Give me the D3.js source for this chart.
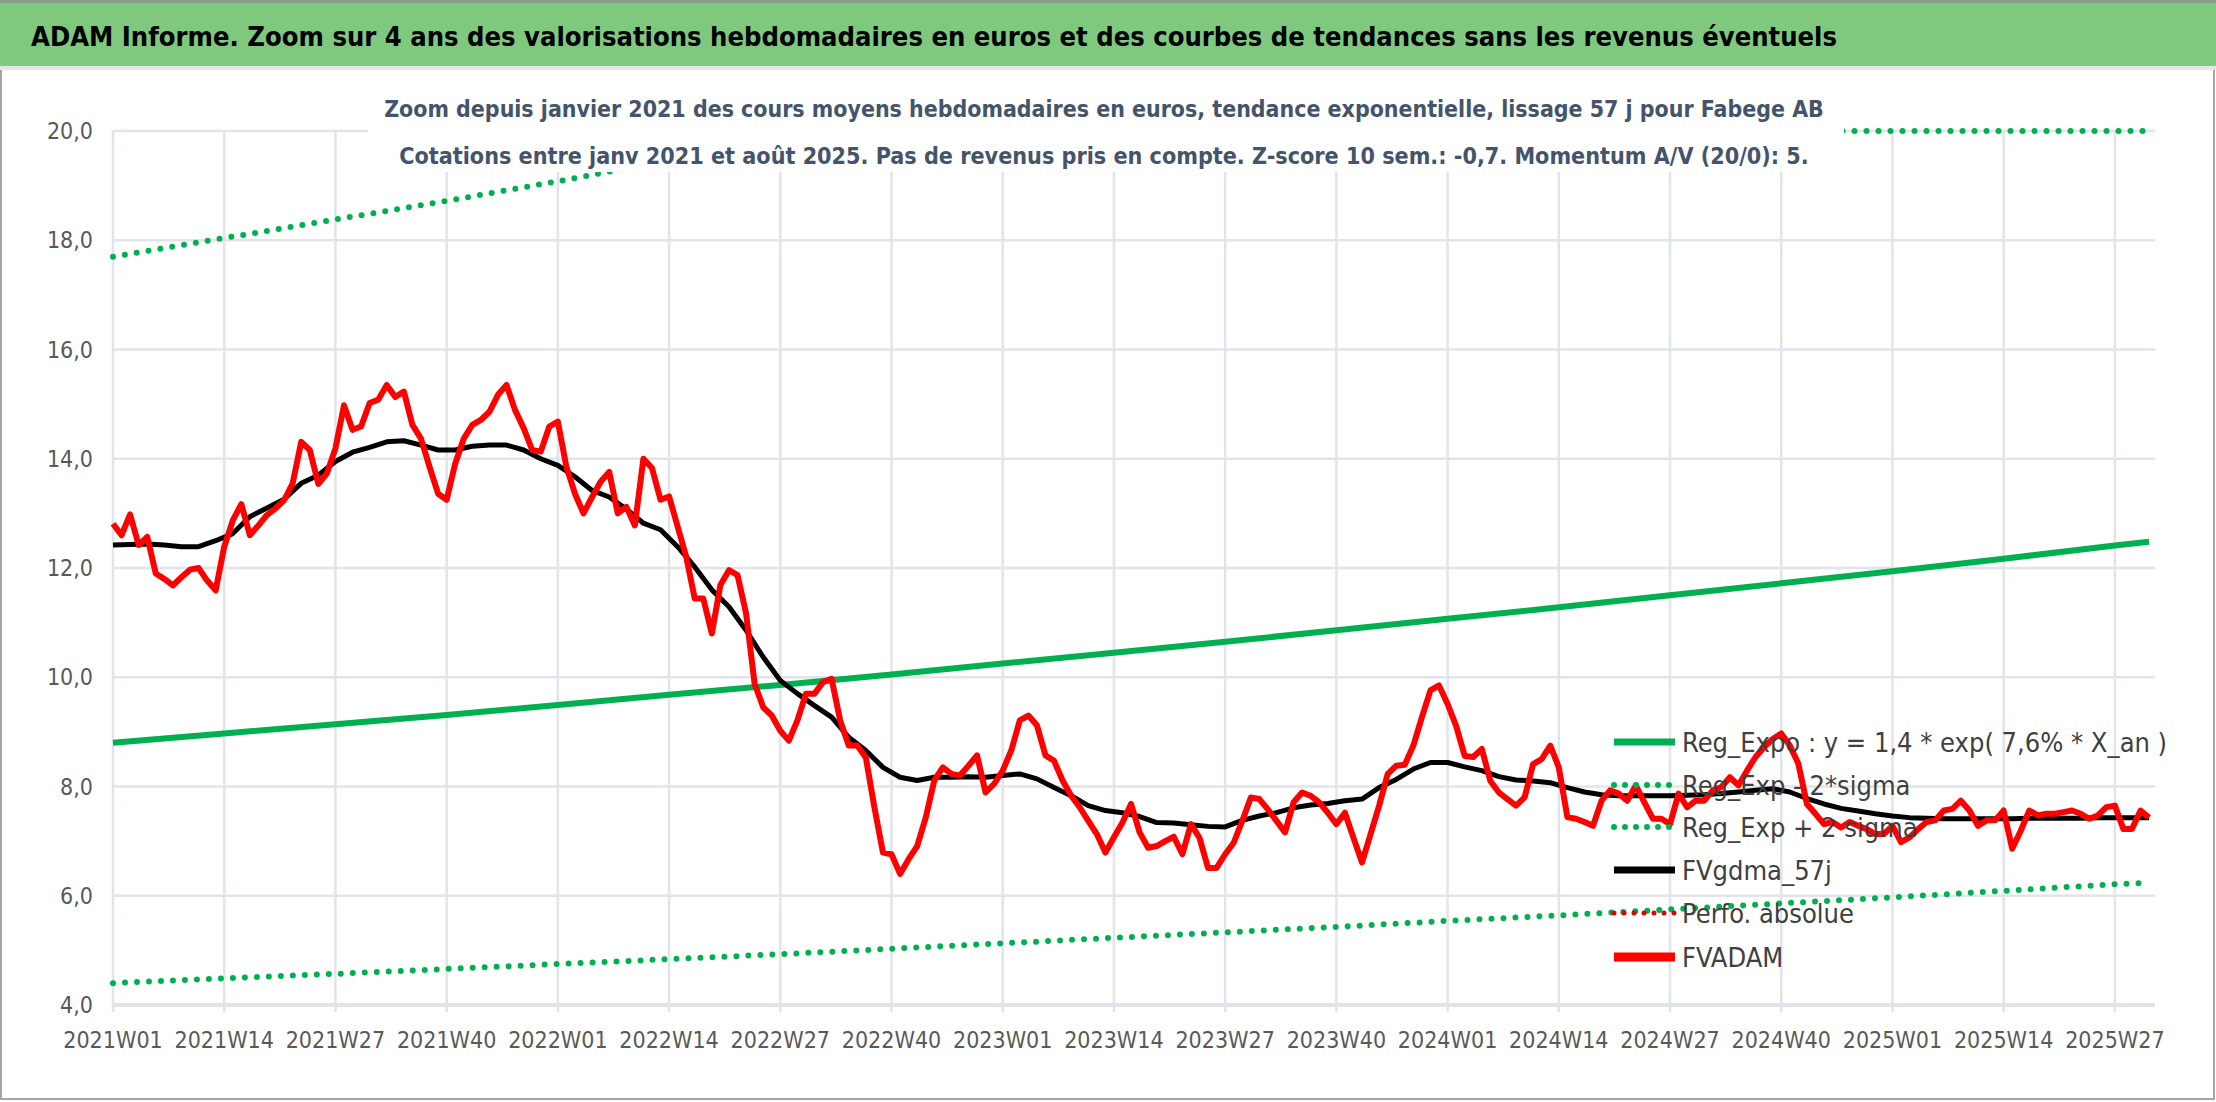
<!DOCTYPE html>
<html><head><meta charset="utf-8">
<script src="https://cdn.jsdelivr.net/npm/d3@7"></script>
<style>body{margin:0;background:#fff}svg{display:block}</style>
</head><body>
<svg id="c" width="2216" height="1102"></svg>
<script>
const tickLabels=["2021W01","2021W14","2021W27","2021W40","2022W01","2022W14","2022W27","2022W40","2023W01","2023W14","2023W27","2023W40","2024W01","2024W14","2024W27","2024W40","2025W01","2025W14","2025W27"];
const yTicks=[4,6,8,10,12,14,16,18,20];
const fvadam=[12.81,12.6,12.98,12.42,12.57,11.9,11.8,11.68,11.83,11.97,12.0,11.77,11.59,12.39,12.87,13.17,12.6,12.78,12.97,13.09,13.24,13.55,14.31,14.16,13.54,13.73,14.19,14.98,14.53,14.59,15.02,15.08,15.35,15.13,15.23,14.62,14.37,13.85,13.36,13.25,13.91,14.37,14.62,14.71,14.86,15.17,15.35,14.89,14.56,14.16,14.13,14.59,14.68,13.85,13.36,13.0,13.3,13.58,13.76,13.0,13.12,12.78,14.0,13.83,13.25,13.31,12.76,12.21,11.44,11.44,10.8,11.69,11.96,11.87,11.17,9.88,9.45,9.3,9.02,8.84,9.21,9.7,9.7,9.91,9.97,9.21,8.75,8.75,8.53,7.62,6.79,6.76,6.4,6.67,6.91,7.43,8.11,8.35,8.23,8.2,8.38,8.57,7.89,8.05,8.29,8.66,9.21,9.3,9.12,8.57,8.47,8.11,7.83,7.62,7.37,7.13,6.79,7.07,7.34,7.68,7.16,6.88,6.91,7.0,7.08,6.76,7.31,7.06,6.51,6.51,6.76,6.97,7.37,7.8,7.77,7.58,7.37,7.16,7.71,7.89,7.83,7.71,7.52,7.31,7.52,7.06,6.61,7.13,7.65,8.23,8.38,8.4,8.75,9.27,9.76,9.85,9.51,9.11,8.56,8.54,8.69,8.1,7.89,7.77,7.65,7.8,8.41,8.5,8.75,8.35,7.44,7.41,7.35,7.28,7.74,7.93,7.87,7.74,8.02,7.71,7.41,7.41,7.31,7.87,7.62,7.74,7.74,7.93,7.99,8.17,8.02,8.29,8.54,8.72,8.87,8.97,8.75,8.42,7.68,7.5,7.31,7.35,7.25,7.35,7.28,7.22,7.13,7.13,7.28,6.98,7.07,7.22,7.35,7.38,7.56,7.59,7.74,7.56,7.28,7.38,7.38,7.56,6.86,7.19,7.56,7.47,7.5,7.5,7.53,7.56,7.5,7.41,7.47,7.62,7.65,7.22,7.22,7.56,7.43];
const fvgdma=[12.42,12.43,12.44,12.42,12.39,12.39,12.5,12.63,12.94,13.1,13.26,13.55,13.7,13.95,14.12,14.21,14.31,14.33,14.25,14.16,14.16,14.23,14.25,14.25,14.16,14.0,13.88,13.67,13.42,13.3,13.08,12.82,12.7,12.39,12.02,11.6,11.29,10.86,10.37,9.94,9.7,9.48,9.27,8.9,8.66,8.35,8.17,8.11,8.17,8.17,8.18,8.17,8.2,8.23,8.14,7.98,7.83,7.65,7.56,7.52,7.45,7.34,7.33,7.3,7.27,7.26,7.38,7.46,7.52,7.61,7.66,7.69,7.74,7.77,7.98,8.13,8.32,8.44,8.44,8.36,8.29,8.18,8.12,8.1,8.07,7.98,7.9,7.85,7.83,7.83,7.83,7.83,7.84,7.85,7.87,7.9,7.93,7.96,7.9,7.78,7.68,7.6,7.55,7.5,7.46,7.43,7.42,7.41,7.41,7.41,7.41,7.41,7.42,7.42,7.42,7.42,7.43,7.43,7.43,7.43];
const trendWeeks=[0,13,26,39,52,65,78,91,104,117,130,143,156,169,182,195,208,221,234,238];
const regExp=[8.8,8.97,9.14,9.31,9.49,9.68,9.86,10.05,10.25,10.45,10.65,10.86,11.07,11.28,11.5,11.72,11.94,12.17,12.41,12.48];
const regMinus=[4.4,4.49,4.57,4.66,4.75,4.84,4.93,5.03,5.13,5.23,5.33,5.43,5.54,5.64,5.75,5.86,5.97,6.09,6.21,6.24];
const regPlus=[17.7,18.04,18.38,18.72,19.08,19.46,19.83,20.21,20.61,21.01,21.42,21.84,22.26,22.69,23.13,23.58,24.03,24.5,24.97,25.1];
const legendItems=["Reg_Expo : y = 1,4 * exp( 7,6% *  X_an )","Reg_Exp - 2*sigma","Reg_Exp + 2 sigma","FVgdma_57j","Perfo. absolue","FVADAM"];

const svg=d3.select("#c");
const F="'DejaVu Sans Condensed','Liberation Sans Narrow',sans-serif";
const x=d3.scaleLinear().domain([0,238]).range([113,113+238*8.555]);
const y=d3.scaleLinear().domain([4,20]).range([1005,131]);
const GREEN="#00B050";
// scale font size so natural width equals target width
function fitW(sel,target){sel.each(function(){const s=+this.getAttribute("font-size");const w=this.getComputedTextLength();d3.select(this).attr("font-size",(s*target/w).toFixed(2));});}
function fitF(sel,f){sel.each(function(){const s=+this.getAttribute("font-size");d3.select(this).attr("font-size",(s*f).toFixed(2));});}

svg.append("rect").attr("x",1).attr("y",1).attr("width",2213).attr("height",1098).attr("fill","#fff").attr("stroke","#A6A6A6").attr("stroke-width",2);
svg.append("rect").attr("x",0).attr("y",0).attr("width",2216).attr("height",66).attr("fill","#7FC97F");
svg.append("rect").attr("x",0).attr("y",0).attr("width",2216).attr("height",3).attr("fill","#8a9a8a");
svg.append("rect").attr("x",0).attr("y",66).attr("width",2216).attr("height",4).attr("fill","#E6E6E6");
svg.append("text").attr("x",31).attr("y",46).attr("font-family",F).attr("font-weight","bold").attr("font-size",34).attr("fill","#000")
  .text("ADAM Informe. Zoom sur 4 ans des valorisations hebdomadaires en euros et des courbes de tendances sans les revenus éventuels").call(fitW,1806);

const g=svg.append("g");
g.selectAll(".hg").data(yTicks).join("line").attr("x1",113).attr("x2",2155).attr("y1",d=>y(d)).attr("y2",d=>y(d))
  .attr("stroke","#E1E4EA").attr("stroke-width",d=>d===4?4:2.5);
g.selectAll(".vg").data(tickLabels).join("line").attr("x1",(d,i)=>x(i*13)).attr("x2",(d,i)=>x(i*13))
  .attr("y1",131).attr("y2",1012).attr("stroke","#E1E4EA").attr("stroke-width",2.5);
g.selectAll(".yl").data(yTicks).join("text").attr("x",93).attr("y",d=>y(d)+8).attr("text-anchor","end")
  .attr("font-family",F).attr("font-size",23).attr("fill","#595959").text(d=>d.toFixed(1).replace(".",","));
g.selectAll(".xl").data(tickLabels).join("text").attr("x",(d,i)=>x(i*13)).attr("y",1048).attr("text-anchor","middle")
  .attr("font-family",F).attr("font-size",23).attr("fill","#595959").text(d=>d);

const line=d3.line().x(d=>x(d[0])).y(d=>y(Math.min(20,d[1])));
function tr(arr){return trendWeeks.map((w,i)=>[w,arr[i]]);}
svg.append("path").attr("d",line(tr(regPlus))).attr("fill","none").attr("stroke",GREEN).attr("stroke-width",6).attr("stroke-linecap","round").attr("stroke-dasharray","0 12");
svg.append("path").attr("d",line(tr(regMinus))).attr("fill","none").attr("stroke",GREEN).attr("stroke-width",6).attr("stroke-linecap","round").attr("stroke-dasharray","0 12");
svg.append("path").attr("d",line(tr(regExp))).attr("fill","none").attr("stroke",GREEN).attr("stroke-width",6);
svg.append("path").attr("d",line(fvgdma.map((v,i)=>[i*2,v]))).attr("fill","none").attr("stroke","#000").attr("stroke-width",5).attr("stroke-linejoin","round");
svg.append("path").attr("d",line(fvadam.map((v,i)=>[i,v]))).attr("fill","none").attr("stroke","#FF0000").attr("stroke-width",6).attr("stroke-linejoin","round");

svg.append("rect").attr("x",368).attr("y",72).attr("width",1476).attr("height",100).attr("fill","#fff");
const SC="#44546A";
svg.append("text").attr("x",1104).attr("y",117).attr("text-anchor","middle").attr("font-family",F).attr("font-weight","bold").attr("font-size",30).attr("fill",SC)
  .text("Zoom depuis janvier 2021 des cours moyens hebdomadaires en euros, tendance exponentielle, lissage 57 j pour Fabege AB").call(fitW,1440);
svg.append("text").attr("x",1104).attr("y",164).attr("text-anchor","middle").attr("font-family",F).attr("font-weight","bold").attr("font-size",30).attr("fill",SC)
  .text("Cotations entre janv 2021 et août 2025. Pas de revenus pris en compte. Z-score 10 sem.: -0,7. Momentum A/V (20/0): 5.").call(fitW,1410);

const ly=[742,785,827,870,913,957];
const lg=svg.append("g");
legendItems.forEach((t,i)=>{
  const yy=ly[i];
  const l=()=>lg.append("line").attr("x1",1614).attr("x2",1675).attr("y1",yy).attr("y2",yy);
  if(i===0) l().attr("stroke",GREEN).attr("stroke-width",7);
  if(i===1||i===2) l().attr("stroke",GREEN).attr("stroke-width",6).attr("stroke-linecap","round").attr("stroke-dasharray","0 11");
  if(i===3) l().attr("stroke","#000").attr("stroke-width",7);
  if(i===4) l().attr("stroke","#E00000").attr("stroke-width",5).attr("stroke-linecap","round").attr("stroke-dasharray","0 10");
  if(i===5) l().attr("stroke","#FF0000").attr("stroke-width",9);
  lg.append("text").attr("x",1682).attr("y",yy+10).attr("font-family",F).attr("font-size",27).attr("fill","#404040").text(t);
});
</script></body></html>
